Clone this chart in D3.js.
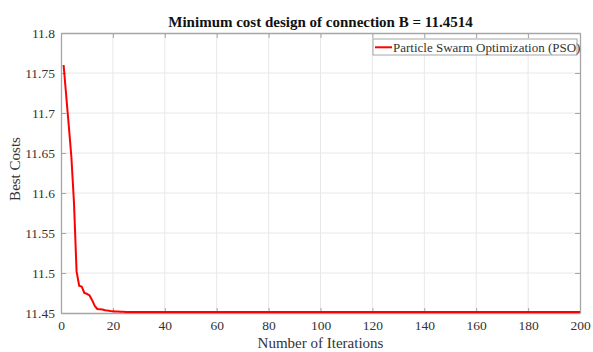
<!DOCTYPE html>
<html>
<head>
<meta charset="utf-8">
<style>
  body { margin: 0; background: #fff; }
  svg { display: block; }
  .grid line { stroke: #e8e8e8; stroke-width: 1; }
  .axis path, .axis line { stroke: #a6a6a6; }
</style>
</head>
<body>
<svg width="593" height="352" font-family="'Liberation Serif', 'Times New Roman', serif"></svg>
<script src="https://d3js.org/d3.v7.min.js"></script>
<script>

// data
var iterations = [1, 2, 3, 4, 5, 6, 7, 8, 9, 10, 11, 12, 13, 14, 15, 16, 17, 18, 19, 20, 21, 22, 23, 24, 25, 200];
var bestCosts = [11.760, 11.722, 11.684, 11.645, 11.588, 11.502, 11.484, 11.483, 11.475, 11.474, 11.472, 11.466,
                 11.459, 11.455, 11.4547, 11.4543, 11.4535, 11.4530, 11.4526, 11.4523, 11.4520, 11.4518,
                 11.4516, 11.4515, 11.4514, 11.4514];
var xTicks = [0, 20, 40, 60, 80, 100, 120, 140, 160, 180, 200];
var yTicks = [11.45, 11.5, 11.55, 11.6, 11.65, 11.7, 11.75, 11.8];
var seriesName = "Particle Swarm Optimization (PSO)";
var title = "Minimum cost design of connection B = 11.4514";

var serif = "'Liberation Serif', 'Times New Roman', serif";

var svg = d3.select("svg"),
    margin = {top: 33, right: 13, bottom: 39, left: 61},
    width = 593 - margin.left - margin.right,
    height = 352 - margin.top - margin.bottom;

var x = d3.scaleLinear().domain([0, 200]).range([0, width]);
var y = d3.scaleLinear().domain([11.45, 11.8]).range([height, 0]);

var g = svg.append("g")
    .attr("transform", "translate(" + margin.left + "," + margin.top + ")");

// grid
g.append("g").attr("class", "grid")
  .selectAll("line").data(xTicks.slice(1, -1)).enter().append("line")
    .attr("x1", function(d) { return x(d); }).attr("x2", function(d) { return x(d); })
    .attr("y1", 0).attr("y2", height);
g.append("g").attr("class", "grid")
  .selectAll("line").data(yTicks.slice(1, -1)).enter().append("line")
    .attr("y1", function(d) { return y(d); }).attr("y2", function(d) { return y(d); })
    .attr("x1", 0).attr("x2", width);

// axes, matlab style box with inward ticks
var fmt = function(d) { return String(+d.toFixed(2)); };

g.append("g").attr("class", "axis")
    .attr("transform", "translate(0," + height + ")")
    .call(d3.axisBottom(x).tickValues(xTicks).tickSizeInner(-5).tickSizeOuter(0).tickPadding(7).tickFormat(fmt));
g.append("g").attr("class", "axis")
    .call(d3.axisTop(x).tickValues(xTicks).tickSizeInner(-5).tickSizeOuter(0).tickFormat(""));
g.append("g").attr("class", "axis")
    .call(d3.axisLeft(y).tickValues(yTicks).tickSizeInner(-5).tickSizeOuter(0).tickPadding(6).tickFormat(fmt));
g.append("g").attr("class", "axis")
    .attr("transform", "translate(" + width + ",0)")
    .call(d3.axisRight(y).tickValues(yTicks).tickSizeInner(-5).tickSizeOuter(0).tickFormat(""));

g.selectAll(".axis")
    .attr("font-family", serif)
    .attr("font-size", 13.5);
g.selectAll(".axis path").attr("stroke-width", 1.3);
g.selectAll(".axis text").attr("fill", "#333");

// line
var points = iterations.map(function(d, i) { return [d, bestCosts[i]]; });
g.append("path")
    .datum(points)
    .attr("fill", "none")
    .attr("stroke", "#ff0000")
    .attr("stroke-width", 2)
    .attr("stroke-linejoin", "round")
    .attr("d", d3.line().x(function(d) { return x(d[0]); }).y(function(d) { return y(d[1]); }));

// legend
var legend = g.append("g").attr("transform", "translate(" + (width - 207) + ",6)");
legend.append("rect")
    .attr("width", 204).attr("height", 16)
    .attr("fill", "#fff").attr("stroke", "#a6a6a6").attr("stroke-width", 1);
legend.append("line")
    .attr("x1", 2).attr("x2", 19).attr("y1", 8.3).attr("y2", 8.3)
    .attr("stroke", "#ff0000").attr("stroke-width", 2);
legend.append("text")
    .attr("x", 20).attr("y", 12.5)
    .attr("font-size", 13)
    .attr("fill", "#333")
    .text(seriesName);

// titles
svg.append("text")
    .attr("x", margin.left + width / 2).attr("y", 27)
    .attr("text-anchor", "middle")
    .attr("font-size", 15).attr("font-weight", "bold")
    .attr("fill", "#111")
    .text(title);

svg.append("text")
    .attr("x", margin.left + width / 2).attr("y", 348)
    .attr("text-anchor", "middle")
    .attr("font-size", 15)
    .attr("fill", "#333")
    .text("Number of Iterations");

svg.append("text")
    .attr("transform", "translate(20," + (margin.top + height / 2 - 4) + ") rotate(-90)")
    .attr("text-anchor", "middle")
    .attr("font-size", 15)
    .attr("fill", "#333")
    .text("Best Costs");

</script>
</body>
</html>
